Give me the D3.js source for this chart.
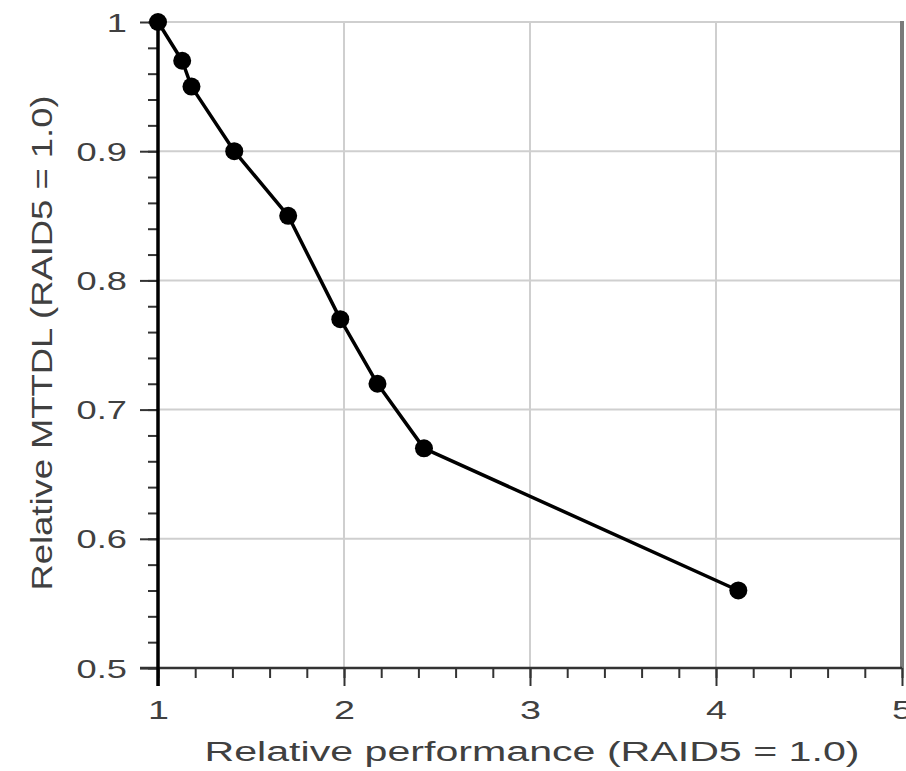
<!DOCTYPE html>
<html>
<head>
<meta charset="utf-8">
<script src="https://cdn.jsdelivr.net/npm/d3@7"></script>
<style>
  body { margin: 0; background: #fff; }
  text { font-family: "Liberation Sans", Arial, sans-serif; fill: #404040; }
</style>
</head>
<body>
<div id="chart"></div>
<script>
// relative performance vs relative MTTDL, both normalised to RAID5
const perf  = [1, 1.13, 1.18, 1.41, 1.70, 1.98, 2.18, 2.43, 4.12];
const mttdl = [1, 0.97, 0.95, 0.90, 0.85, 0.77, 0.72, 0.67, 0.56];

const xTicks = [1, 2, 3, 4, 5];
const yTicks = [0.5, 0.6, 0.7, 0.8, 0.9, 1];
const xMinor = d3.range(1, 5.001, 0.2);
const yMinor = d3.range(0.5, 1.0001, 0.02);

const xTitle = 'Relative performance (RAID5 = 1.0)';
const yTitle = 'Relative MTTDL (RAID5 = 1.0)';

const W = 906, H = 771;
const pL = 158, pR = 902, pT = 22, pB = 668;

const svg = d3.select('#chart').append('svg').attr('width', W).attr('height', H);

const x = d3.scaleLinear().domain([1, 5]).range([pL, pR]);
const y = d3.scaleLinear().domain([0.5, 1]).range([pB, pT]);

// grid
svg.append('g')
    .selectAll('line')
    .data(xTicks.slice(1, -1))
    .enter().append('line')
    .attr('x1', d => x(d)).attr('x2', d => x(d))
    .attr('y1', pT).attr('y2', pB)
    .attr('stroke', '#cfcfcf').attr('stroke-width', 2);

svg.append('g')
    .selectAll('line')
    .data(yTicks.slice(1))
    .enter().append('line')
    .attr('x1', pL).attr('x2', pR)
    .attr('y1', d => y(d)).attr('y2', d => y(d))
    .attr('stroke', '#cfcfcf').attr('stroke-width', 2);

// right frame
svg.append('line')
    .attr('x1', pR).attr('x2', pR)
    .attr('y1', pT - 1).attr('y2', pB)
    .attr('stroke', '#7a7a7a').attr('stroke-width', 4);

// minor ticks
svg.append('g')
    .attr('transform', `translate(0,${pB})`)
    .call(d3.axisBottom(x).tickValues(xMinor).tickSize(10).tickFormat(''))
    .call(g => g.select('.domain').remove())
    .selectAll('line').attr('stroke', '#333').attr('stroke-width', 2);

svg.append('g')
    .attr('transform', `translate(${pL},0)`)
    .call(d3.axisLeft(y).tickValues(yMinor).tickSize(10).tickFormat(''))
    .call(g => g.select('.domain').remove())
    .selectAll('line').attr('stroke', '#333').attr('stroke-width', 2);

// major ticks + labels
const sx = 1.45;

const xAxis = svg.append('g')
    .attr('transform', `translate(0,${pB})`)
    .call(d3.axisBottom(x).tickValues(xTicks).tickSize(18).tickFormat(d3.format('d')));
xAxis.select('.domain')
    .attr('d', `M${pL - 18},0H${pR}`)
    .attr('stroke', '#333').attr('stroke-width', 2.5);
xAxis.selectAll('line').attr('stroke', '#333').attr('stroke-width', 2);
xAxis.selectAll('text')
    .attr('y', 51).attr('dy', 0)
    .attr('font-size', 26)
    .attr('transform', `scale(${sx},1)`);

const yAxis = svg.append('g')
    .attr('transform', `translate(${pL},0)`)
    .call(d3.axisLeft(y).tickValues(yTicks).tickSize(18).tickFormat(d => d === 1 ? '1' : d3.format('.1f')(d)));
yAxis.select('.domain').remove();
yAxis.selectAll('line').attr('stroke', '#333').attr('stroke-width', 2);
yAxis.selectAll('text')
    .attr('x', -31 / sx).attr('dy', '0.36em')
    .attr('font-size', 25)
    .attr('transform', `scale(${sx},1)`);

// left axis line
svg.append('line')
    .attr('x1', pL).attr('x2', pL)
    .attr('y1', pT).attr('y2', pB + 18)
    .attr('stroke', '#000').attr('stroke-width', 3.5);

// titles
svg.append('text')
    .attr('x', 532).attr('y', 761)
    .attr('text-anchor', 'middle')
    .attr('font-size', 27)
    .attr('textLength', 655).attr('lengthAdjust', 'spacingAndGlyphs')
    .text(xTitle);

svg.append('text')
    .attr('transform', 'translate(52,343) rotate(-90)')
    .attr('text-anchor', 'middle')
    .attr('font-size', 29)
    .attr('textLength', 495).attr('lengthAdjust', 'spacingAndGlyphs')
    .text(yTitle);

// series
const pts = perf.map((p, i) => ({ p, m: mttdl[i] }));

svg.append('path')
    .datum(pts)
    .attr('fill', 'none')
    .attr('stroke', '#000')
    .attr('stroke-width', 3.5)
    .attr('stroke-linejoin', 'round')
    .attr('d', d3.line().x(d => x(d.p)).y(d => y(d.m)));

svg.append('g')
    .selectAll('circle')
    .data(pts)
    .enter().append('circle')
    .attr('cx', d => x(d.p))
    .attr('cy', d => y(d.m))
    .attr('r', 9)
    .attr('fill', '#000');
</script>
</body>
</html>
